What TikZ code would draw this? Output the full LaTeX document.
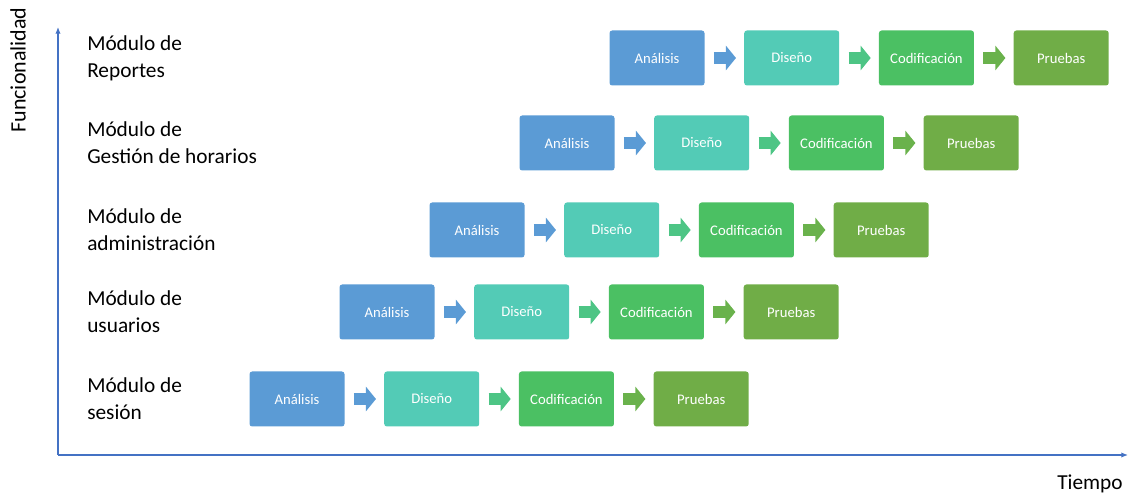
\documentclass[tikz,border=0pt]{standalone}
\usepackage{fontspec}
\setmainfont{Carlito}
\usetikzlibrary{positioning,arrows.meta}

\definecolor{analisis}{HTML}{5B9BD5}
\definecolor{diseno}{HTML}{53CBB6}
\definecolor{codif}{HTML}{4BC063}
\definecolor{pruebas}{HTML}{70AD47}
\definecolor{flechados}{HTML}{4DC585}
\definecolor{flechatres}{HTML}{6AB24C}
\definecolor{ejeazul}{HTML}{4472C4}

\tikzset{
  fase/.style={rounded corners=2pt, minimum width=71.25pt, minimum height=41.25pt,
    inner sep=0pt, text=white, font=\fontsize{11}{13}\selectfont},
  modulo/.style={anchor=west, align=left, inner sep=0pt, font=\fontsize{16}{20}\selectfont},
  paso/.style={line width=9pt, -{Triangle[length=7.5pt,width=18pt]},
    shorten <=6.75pt, shorten >=6pt},
  eje/.style={ejeazul, line width=0.9pt, -{Latex[length=5pt,width=4pt]}}
}

\begin{document}
\begin{tikzpicture}[x=0.75pt, y=-0.75pt]
\useasboundingbox (0,0) rectangle (1129,495);
% Axis
\coordinate (origen) at (58,455);
\coordinate (ytope) at (58,27);
\coordinate (xfin) at (1128,455);
\draw[eje] (origen) -- (ytope);
\draw[eje] (origen) -- (xfin);
\node[rotate=90, font=\fontsize{16.5}{18}\selectfont] (ylab) at (18,70) {Funcionalidad};
\node[font=\fontsize{16}{18}\selectfont] (xlab) at (1090,484) {Tiempo};
% Modules
\foreach \f/\y/\x/\mod in {1/58/657/Reportes, 2/143/567/Gestión de horarios,
    3/230/477/administración, 4/312/387/usuarios, 5/399/297/sesión}
{
  \node[modulo] (m\f) at (87,\y) {Módulo de\\\mod};
  \node[fase, fill=analisis] (a\f) at (\x,\y) {Análisis};
  \node[fase, fill=diseno, right=29.4pt of a\f] (d\f) {Diseño};
  \node[fase, fill=codif, right=29.4pt of d\f] (c\f) {Codificación};
  \node[fase, fill=pruebas, right=29.4pt of c\f] (p\f) {Pruebas};
  \draw[paso, analisis] (a\f) -- (d\f);
  \draw[paso, flechados] (d\f) -- (c\f);
  \draw[paso, flechatres] (c\f) -- (p\f);
}
\end{tikzpicture}
\end{document}
